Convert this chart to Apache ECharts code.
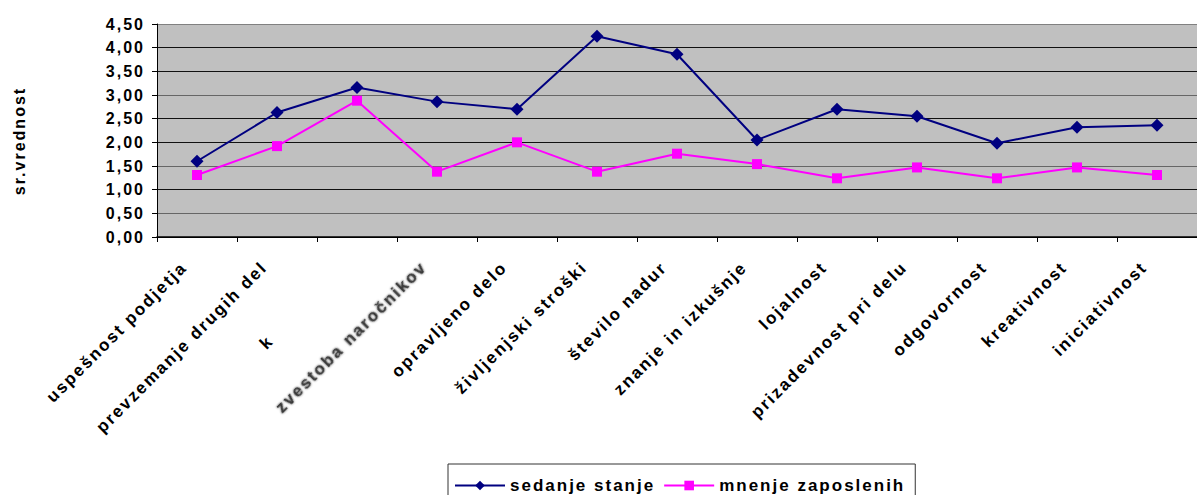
<!DOCTYPE html>
<html>
<head>
<meta charset="utf-8">
<script src="https://cdn.jsdelivr.net/npm/echarts@6/dist/echarts.min.js"></script>
<style>
  html, body { margin: 0; padding: 0; background: #fff; }
  #chart { width: 1197px; height: 495px; }
  /* wide, spaced lettering for every label */
  #chart text { letter-spacing: 2px; }
</style>
</head>
<body>
<div id="chart"></div>
<script>
// categories along the x axis
const categories = [
  'uspešnost podjetja', 'prevzemanje drugih del', 'k', 'zvestoba naročnikov',
  'opravljeno delo', 'življenjski stroški', 'število nadur', 'znanje in izkušnje',
  'lojalnost', 'prizadevnost pri delu', 'odgovornost', 'kreativnost', 'iniciativnost'
];
// mean scores
const sedanjeStanje = [1.60, 2.63, 3.16, 2.86, 2.70, 4.24, 3.86, 2.05, 2.70, 2.55, 1.98, 2.32, 2.36];
const mnenjeZaposlenih = [1.31, 1.92, 2.88, 1.38, 2.00, 1.38, 1.76, 1.54, 1.24, 1.47, 1.24, 1.47, 1.31];
const seriesNames = ['sedanje stanje', 'mnenje zaposlenih'];
const axisName = 'sr.vrednost';
const yMin = 0, yMax = 4.5, yStep = 0.5;

const FONT = '"Liberation Sans", Arial, sans-serif';
const chart = echarts.init(document.getElementById('chart'), null, { renderer: 'svg' });

const labelBase = { fontFamily: FONT, fontSize: 17, fontWeight: 'bold', color: '#000' };

chart.setOption({
  animation: false,
  backgroundColor: '#ffffff',
  textStyle: { fontFamily: FONT },
  grid: { left: 157, top: 24, width: 1050, height: 213, show: true, backgroundColor: '#c0c0c0', borderWidth: 0 },
  legend: {
    data: seriesNames,
    left: 448, top: 464,
    orient: 'horizontal',
    padding: [13, 44, 13, 6],
    itemGap: 36,
    itemWidth: 50, itemHeight: 12,
    borderColor: '#333', borderWidth: 1,
    backgroundColor: '#fff',
    textStyle: { fontFamily: FONT, fontSize: 17, fontWeight: 'bold', color: '#000' }
  },
  xAxis: {
    type: 'category',
    data: categories,
    boundaryGap: true,
    axisLine: { lineStyle: { color: '#000', width: 1.5 } },
    axisTick: { show: true, interval: 0, length: 5, lineStyle: { color: '#000' } },
    axisLabel: {
      interval: 0, rotate: 45, margin: 15,
      color: '#000', fontFamily: FONT, fontSize: 17, fontWeight: 'bold',
      formatter: function (v, i) {
        if (i === 2) return '{cut|' + v + '}';
        if (i === 3) return '{soft|' + v + '}';
        return '{n|' + v + '}';
      },
      rich: {
        n: Object.assign({ padding: [0, 18, 0, 0] }, labelBase),
        cut: Object.assign({ padding: [0, 122, 0, 0] }, labelBase),
        soft: Object.assign({}, labelBase, {
          color: '#3a3a3a', padding: [0, 18, 0, 0],
          textShadowColor: 'rgba(0,0,0,0.7)', textShadowBlur: 2
        })
      }
    },
    splitLine: { show: false }
  },
  yAxis: {
    type: 'value',
    min: yMin, max: yMax, interval: yStep,
    name: axisName,
    nameLocation: 'middle',
    nameRotate: 90,
    nameGap: 130,
    nameTextStyle: { fontFamily: FONT, fontSize: 16, fontWeight: 'bold', color: '#000', padding: [0, 21, 0, 0] },
    axisLine: { show: true, lineStyle: { color: '#000', width: 1 } },
    axisTick: { show: true, length: 5, lineStyle: { color: '#000' } },
    axisLabel: {
      margin: 12, color: '#000', fontFamily: FONT, fontSize: 16, fontWeight: 'bold',
      formatter: function (v) { return v.toFixed(2).replace('.', ','); }
    },
    splitLine: {
      show: true,
      lineStyle: {
        width: 1,
        color: ['#000', '#666', '#111', '#666', '#111', '#111', '#666', '#111', '#111', '#808080']
      }
    }
  },
  series: [
    {
      name: seriesNames[0], type: 'line', data: sedanjeStanje,
      symbol: 'diamond', symbolSize: 13,
      lineStyle: { color: '#000080', width: 2 },
      itemStyle: { color: '#000080' }
    },
    {
      name: seriesNames[1], type: 'line', data: mnenjeZaposlenih,
      symbol: 'rect', symbolSize: 10,
      lineStyle: { color: '#ff00ff', width: 2 },
      itemStyle: { color: '#ff00ff' }
    }
  ]
});
</script>
</body>
</html>
